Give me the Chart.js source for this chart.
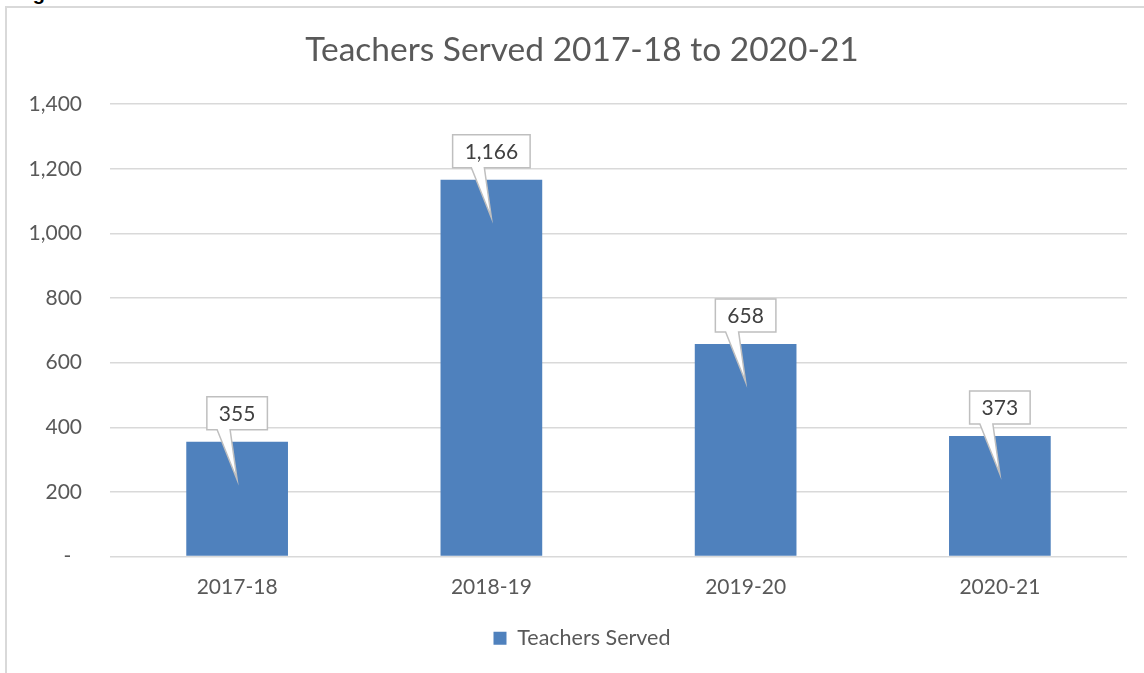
<!DOCTYPE html>
<html lang="en">
<head>
  <meta charset="UTF-8">
  <title>Teachers Served 2017-18 to 2020-21</title>
  <script src="https://cdn.jsdelivr.net/npm/chart.js"></script>
  <style>
    body {
      margin: 0;
      background: #fff;
      width: 1144px;
      height: 673px;
      overflow: hidden;
      position: relative;
    }

    .caption {
      position: absolute;
      left: 15px;
      top: -17px;
      font: bold 20px/20px "Liberation Sans", sans-serif;
      color: #000;
      white-space: nowrap;
    }

    .frame {
      position: absolute;
      left: 5px;
      top: 6px;
      width: 1150px;
      height: 700px;
      border-left: 2px solid #d9d9d9;
      border-top: 2px solid #d9d9d9;
      background: #fff;
    }

    .wrap {
      position: absolute;
      left: 0;
      top: 0;
      width: 1144px;
      height: 673px;
    }
  </style>
</head>
<body>

  <div class="caption">Figure</div>
  <div class="frame"></div>
  <div class="wrap"><canvas id="chart" width="1144" height="673"></canvas></div>

  <script>
    const years = ['2017-18', '2018-19', '2019-20', '2020-21'];
    const teachersServed = [355, 1166, 658, 373];
    const yTicks = [0, 200, 400, 600, 800, 1000, 1200, 1400];

    const fmt = v => v.toLocaleString('en-US');
    const FONT = 'Lato, "Open Sans", sans-serif';

    // callout boxes over each bar, pointing down into the bar
    const callouts = {
      id: 'callouts',
      afterDatasetsDraw(chart) {
        const ctx = chart.ctx;
        const meta = chart.getDatasetMeta(0);
        ctx.save();
        ctx.font = '21px ' + FONT;
        meta.data.forEach((bar, i) => {
          const text = fmt(teachersServed[i]);
          const w = ctx.measureText(text).width + 24;
          const h = 33;
          const cx = bar.x;
          const bottom = bar.y - 12;
          const left = cx - w / 2;
          const top = bottom - h;
          const tipY = bar.y + 38;

          ctx.beginPath();
          ctx.moveTo(left, top);
          ctx.lineTo(left + w, top);
          ctx.lineTo(left + w, bottom);
          ctx.lineTo(cx - 7, bottom);
          ctx.lineTo(cx, tipY);
          ctx.lineTo(cx - 20, bottom);
          ctx.lineTo(left, bottom);
          ctx.closePath();
          ctx.fillStyle = '#ffffff';
          ctx.fill();
          ctx.strokeStyle = '#bfbfbf';
          ctx.lineWidth = 1.5;
          ctx.stroke();

          ctx.fillStyle = '#404040';
          ctx.textAlign = 'center';
          ctx.textBaseline = 'middle';
          ctx.fillText(text, cx, top + h / 2 + 1);
        });
        ctx.restore();
      }
    };

    new Chart(document.getElementById('chart'), {
      type: 'bar',
      data: {
        labels: years,
        datasets: [{
          label: 'Teachers Served',
          data: teachersServed,
          backgroundColor: '#4f81bd',
          categoryPercentage: 1,
          barPercentage: 0.4
        }]
      },
      options: {
        responsive: false,
        animation: false,
        layout: { padding: { left: 20, right: 0, top: 0, bottom: 14 } },
        plugins: {
          title: {
            display: true,
            text: 'Teachers Served 2017-18 to 2020-21',
            color: '#595959',
            font: { family: FONT, size: 33.5, weight: 'normal' },
            padding: { top: 30, bottom: 34 }
          },
          legend: {
            position: 'bottom',
            labels: {
              color: '#595959',
              font: { family: FONT, size: 21.5 },
              boxWidth: 13,
              boxHeight: 13,
              padding: 10
            }
          },
          tooltip: { enabled: false }
        },
        scales: {
          x: {
            grid: { display: false },
            border: { display: false },
            ticks: {
              color: '#595959',
              font: { family: FONT, size: 21 },
              padding: 10
            },
            afterFit: s => { s.height = 61; }
          },
          y: {
            min: 0,
            max: 1400,
            afterBuildTicks: s => { s.ticks = yTicks.map(v => ({ value: v })); },
            grid: { color: '#d9d9d9', lineWidth: 1.5, tickLength: 0 },
            border: { display: false },
            ticks: {
              color: '#595959',
              font: { family: FONT, size: 21 },
              padding: 28,
              callback: v => v === 0 ? '-  ' : fmt(v)
            },
            afterFit: s => { s.width = 90; }
          },
          // empty right-hand strip so the plot stops short of the edge
          y2: {
            type: 'linear',
            position: 'right',
            grid: { display: false },
            border: { display: false },
            ticks: { display: false },
            afterFit: s => { s.width = 17; }
          }
        }
      },
      plugins: [callouts]
    });
  </script>
</body>
</html>
